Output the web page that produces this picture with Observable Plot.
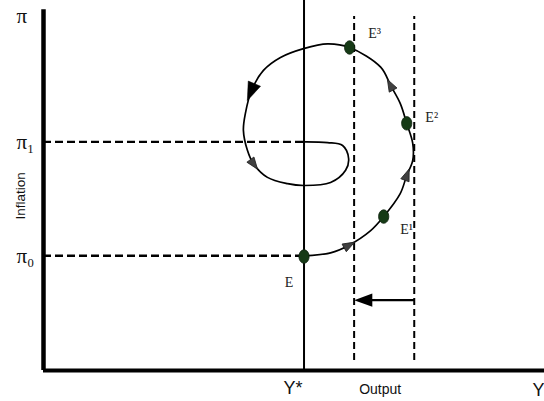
<!DOCTYPE html>
<html>
<head>
<meta charset="utf-8">
<script src="https://cdn.jsdelivr.net/npm/d3@7"></script>
<script src="https://cdn.jsdelivr.net/npm/@observablehq/plot@0.6"></script>
<style>
  html, body { margin: 0; padding: 0; background: white; }
</style>
</head>
<body>
<div id="chart"></div>
<script>
// ---- data ----
const piLabels = ["π₀", "π₁", "π"];
const piValues = [31, 61.8, 95.8];
const yStar = 52;                 // potential output Y*
const outputBands = [62, 74];     // dashed output levels
const shiftFrom = 74, shiftTo = 62, shiftLevel = 19;

const curveX = [52, 57.3, 60.9, 65.3, 67.9, 71.2, 72.5, 73.7, 73.7, 72.5, 71.2, 69.3, 67.3, 61.1, 56.7, 51.9, 47.3, 43.9, 41.5, 40.3, 39.9, 40.7, 41.9, 44.7, 48.7, 51.9, 57.3, 60.3, 60.9, 59.7, 56.7, 52];
const curveY = [31, 31.8, 33.8, 37.8, 41.6, 47.8, 52.7, 56.8, 61.4, 66.8, 72.2, 77.0, 82.0, 87.3, 88.3, 87.0, 84.6, 81.1, 75.6, 69.5, 64.9, 59.5, 55.9, 52.2, 50.5, 50.0, 50.8, 54.1, 57.3, 60.8, 61.6, 61.8];
const arrowIdx = [2, 6, 11, 18, 22];
const bigArrowIdx = 18;

const eqLabels = ["E", "E¹", "E²", "E³"];
const eqX = [52, 67.9, 72.5, 61.1];
const eqY = [30.8, 41.6, 66.8, 87.3];

// ---- build ----
const W = 544, H = 401, mL = 43, mB = 31;
const kx = (W - mL) / 100, ky = (H - mB) / 100;

const curve = curveX.map((x, i) => ({x, y: curveY[i]}));
const arrows = arrowIdx.map(i => {
  const dxp = (curveX[i + 1] - curveX[i - 1]) * kx;
  const dyp = -(curveY[i + 1] - curveY[i - 1]) * ky;
  return {x: curveX[i], y: curveY[i], rotate: Math.atan2(dxp, -dyp) * 180 / Math.PI, big: i === bigArrowIdx};
});
const eq = eqLabels.map((label, i) => ({label, x: eqX[i], y: eqY[i]}));
const ticks = piLabels.map((label, i) => ({label, y: piValues[i]}));

const ellipse = {
  draw(ctx, size) {
    const r = Math.sqrt(size / Math.PI);
    const rx = r * 0.85, ry = r * 1.12, k = 0.5523;
    ctx.moveTo(rx, 0);
    ctx.bezierCurveTo(rx, ry * k, rx * k, ry, 0, ry);
    ctx.bezierCurveTo(-rx * k, ry, -rx, ry * k, -rx, 0);
    ctx.bezierCurveTo(-rx, -ry * k, -rx * k, -ry, 0, -ry);
    ctx.bezierCurveTo(rx * k, -ry, rx, -ry * k, rx, 0);
    ctx.closePath();
  }
};
// narrow arrowhead pointing up (rotated by the rotate channel)
const arrowHead = {
  draw(ctx, size) {
    const r = Math.sqrt(size / Math.PI);
    ctx.moveTo(0, -1.5 * r);
    ctx.lineTo(0.95 * r, 1.1 * r);
    ctx.lineTo(-0.95 * r, 1.1 * r);
    ctx.closePath();
  }
};

const serif = "Liberation Serif", sans = "Liberation Sans";

const plot = Plot.plot({
  width: W, height: H,
  marginLeft: mL, marginRight: 0, marginTop: 0, marginBottom: mB,
  x: {domain: [0, 100], axis: null},
  y: {domain: [0, 100], axis: null},
  style: {background: "white", overflow: "visible"},
  marks: [
    Plot.ruleY(piValues.slice(0, 2), {x1: 0, x2: yStar, stroke: "black", strokeWidth: 2.4, strokeDasharray: "8,4"}),
    Plot.ruleX(outputBands, {y1: 2.7, y2: 95.7, stroke: "black", strokeWidth: 2, strokeDasharray: "7,4"}),
    Plot.ruleX([yStar], {y1: 0, y2: 100, stroke: "black", strokeWidth: 2}),
    Plot.line(curve, {x: "x", y: "y", curve: "catmull-rom", stroke: "black", strokeWidth: 1.7}),
    Plot.link([{x1: shiftFrom, x2: shiftTo + 2, y: shiftLevel}], {x1: "x1", x2: "x2", y1: "y", y2: "y", stroke: "black", strokeWidth: 2.2}),
    Plot.dot([{x: shiftTo, y: shiftLevel}], {x: "x", y: "y", dx: 10.5, symbol: arrowHead, rotate: -90, r: 7, fill: "black", stroke: "none"}),
    Plot.dot(arrows.filter(d => !d.big), {x: "x", y: "y", rotate: "rotate", symbol: arrowHead, r: 4.6, fill: "#404040", stroke: "#222", strokeWidth: 0.8}),
    Plot.dot(arrows.filter(d => d.big), {x: "x", y: "y", rotate: "rotate", symbol: arrowHead, r: 7, fill: "black", stroke: "black", strokeWidth: 0.5}),
    Plot.ruleY([0], {x1: 0, x2: 100, stroke: "black", strokeWidth: 4}),
    Plot.ruleX([0], {y1: 0, y2: 97.5, stroke: "black", strokeWidth: 4.5}),
    Plot.dot(eq, {x: "x", y: "y", symbol: ellipse, r: 6, fill: "#163a16", stroke: "#0d200d", strokeWidth: 0.8}),
    Plot.text([eq[0]], {x: "x", y: "y", text: "label", dx: -15, dy: 26, fontFamily: serif, fontSize: 14, fill: "#222"}),
    Plot.text([eq[1]], {x: "x", y: "y", text: "label", dx: 23, dy: 13, fontFamily: serif, fontSize: 14, fill: "#222"}),
    Plot.text([eq[2]], {x: "x", y: "y", text: "label", dx: 25, dy: -6, fontFamily: serif, fontSize: 14, fill: "#222"}),
    Plot.text([eq[3]], {x: "x", y: "y", text: "label", dx: 25, dy: -14, fontFamily: serif, fontSize: 14, fill: "#222"}),
    Plot.text(ticks, {x: 0, y: "y", text: "label", dx: -27, textAnchor: "start", fontFamily: serif, fontSize: 21, fill: "#111"}),
    Plot.text(["Inflation"], {x: 0, y: (piValues[0] + piValues[1]) / 2 + 0.8, text: d => d, rotate: -90, dx: -23, fontFamily: sans, fontSize: 13.5, fill: "#111"}),
    Plot.text(["Y*"], {x: yStar, y: 0, text: d => d, dx: -11, dy: 18, fontFamily: sans, fontSize: 18, fill: "#111"}),
    Plot.text(["Output"], {x: (outputBands[0] + outputBands[1]) / 2, y: 0, text: d => d, dx: -4, dy: 19, fontFamily: sans, fontSize: 14, fill: "#111"}),
    Plot.text(["Y"], {x: 100, y: 0, text: d => d, dx: -6, dy: 20, fontFamily: sans, fontSize: 18, fill: "#111"})
  ]
});
document.getElementById("chart").append(plot);
</script>
</body>
</html>
